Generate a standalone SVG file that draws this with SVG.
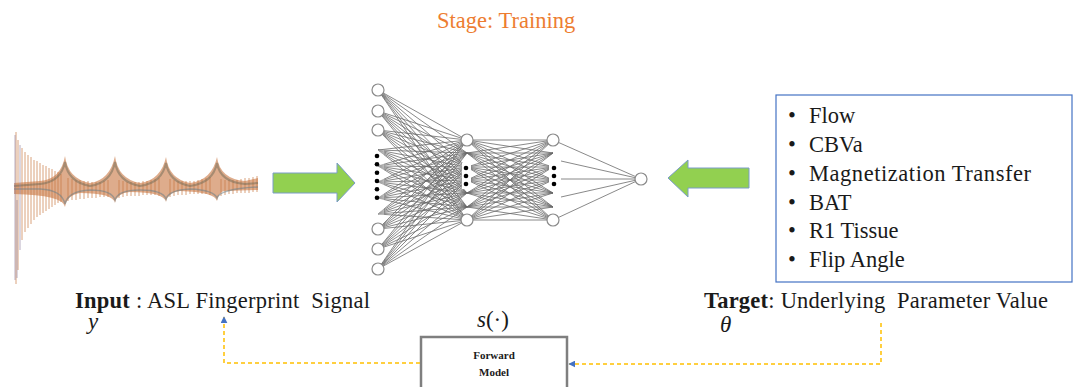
<svg xmlns="http://www.w3.org/2000/svg" width="1073" height="387" viewBox="0 0 1073 387" xml:space="preserve">
<defs>
<style>
.serif{font-family:"Liberation Serif","Times New Roman",serif;fill:#1a1a1a;white-space:pre}
.net{stroke:#6b6b6b;stroke-width:0.8;fill:none}
.node{fill:#fff;stroke:#8a8a8a;stroke-width:1.2}
.dot{fill:#000}
.garrow{fill:#92D050;stroke:#7A9CC8;stroke-width:1}
.dash{fill:none;stroke:#FFC000;stroke-width:1.5;stroke-dasharray:4 3}
</style>
<marker id="blueHead" viewBox="0 0 10 10" refX="9" refY="5" markerWidth="7" markerHeight="7" orient="auto" markerUnits="userSpaceOnUse">
<path d="M0 0L10 5L0 10z" fill="#4472C4"/>
</marker>
</defs>
<rect width="1073" height="387" fill="#fff"/>

<text id="title" class="serif" x="437" y="28" font-size="22.5" style="fill:#ED7D31">Stage: Training</text>

<g id="signal">
<path d="M16 132L16 284M18 140L18 270M22 148L22 240M25 152L25 232M28 155L28 228M31 157L31 224M34 160L34 220M37 161L37 217M40 163L40 215M43 165L43 213M46 166L46 211M49 168L49 209M52 169L52 207M55 171L55 205M58 172L58 203M61 174L61 202M68 178L68 201M72 179L72 200M76 180L76 200M80 180L80 199M84 181L84 199M88 181L88 198M92 182L92 198M96 182L96 198M100 182L100 197M104 181L104 197M108 180L108 197M119 180L119 198M123 181L123 197M127 182L127 196M131 182L131 196M135 182L135 196M139 182L139 196M143 181L143 195M147 181L147 195M151 180L151 195M155 179L155 195M159 178L159 196M170 179L170 197M174 180L174 196M178 181L178 195M182 181L182 195M186 181L186 195M190 181L190 194M194 181L194 194M198 180L198 194M202 179L202 194M206 178L206 194M210 177L210 195M221 179L221 196M225 180L225 195M229 180L229 194M233 180L233 194M237 180L237 193M241 179L241 193M245 178L245 193M249 178L249 193M253 177L253 192M257 176L257 192" fill="none" stroke="#C97A45" stroke-width="1" opacity="0.7"/>
<path d="M14 183L40 181Q61 179 65 156Q68 179 90 183Q110 180 115 156Q118 179 140 183Q161 180 166 157Q169 179 190 183Q212 180 217 157Q220 179 245 181L258 178L258 190L224 191Q219 192 217 201Q215 192 180 191Q168 192 166 202Q164 192 130 192Q117 193 115 203Q113 193 80 193Q67 195 65 207Q63 195 14 194Z" fill="#C8743F" opacity="0.6"/>
<path d="M14 186L40 184Q61 182 65 162Q68 182 90 186Q111 183 115 162Q118 182 140 186Q162 183 166 163Q169 182 190 186Q213 183 217 163Q220 182 245 184L258 183" fill="none" stroke="#6f6a55" stroke-width="2" opacity="0.5"/>
<path d="M14 189L40 189Q62 190 65 204Q68 191 90 190Q112 190 115 200Q118 190 140 190Q163 190 166 199Q169 190 190 189Q214 190 217 198Q220 189 258 187" fill="none" stroke="#6d7f86" stroke-width="1.5" opacity="0.55"/>
<path d="M15 135L15 280M20 145L20 250M17 200L17 278" fill="none" stroke="#8a7a9a" stroke-width="1" opacity="0.6"/>
</g>

<g id="arrow-right">
<path class="garrow" d="M273 173L337 173L337 163L355 183L337 202L337 193L273 193Z"/>
</g>

<g id="neural-net">
<path class="net" d="M378 90L467 140M378 90L467 153M378 90L467 167M378 90L467 180M378 90L467 193M378 90L467 207M378 90L467 220M378 111L467 140M378 111L467 153M378 111L467 167M378 111L467 180M378 111L467 193M378 111L467 207M378 111L467 220M378 130L467 140M378 130L467 153M378 130L467 167M378 130L467 180M378 130L467 193M378 130L467 207M378 130L467 220M378 150L467 140M378 150L467 153M378 150L467 167M378 150L467 180M378 150L467 193M378 150L467 207M378 150L467 220M378 166L467 140M378 166L467 153M378 166L467 167M378 166L467 180M378 166L467 193M378 166L467 207M378 166L467 220M378 182L467 140M378 182L467 153M378 182L467 167M378 182L467 180M378 182L467 193M378 182L467 207M378 182L467 220M378 198L467 140M378 198L467 153M378 198L467 167M378 198L467 180M378 198L467 193M378 198L467 207M378 198L467 220M378 214L467 140M378 214L467 153M378 214L467 167M378 214L467 180M378 214L467 193M378 214L467 207M378 214L467 220M378 229L467 140M378 229L467 153M378 229L467 167M378 229L467 180M378 229L467 193M378 229L467 207M378 229L467 220M378 249L467 140M378 249L467 153M378 249L467 167M378 249L467 180M378 249L467 193M378 249L467 207M378 249L467 220M378 269L467 140M378 269L467 153M378 269L467 167M378 269L467 180M378 269L467 193M378 269L467 207M378 269L467 220"/>
<path class="net" d="M467 140L553 140M467 140L553 153M467 140L553 167M467 140L553 180M467 140L553 193M467 140L553 207M467 140L553 220M467 153L553 140M467 153L553 153M467 153L553 167M467 153L553 180M467 153L553 193M467 153L553 207M467 153L553 220M467 167L553 140M467 167L553 153M467 167L553 167M467 167L553 180M467 167L553 193M467 167L553 207M467 167L553 220M467 180L553 140M467 180L553 153M467 180L553 167M467 180L553 180M467 180L553 193M467 180L553 207M467 180L553 220M467 193L553 140M467 193L553 153M467 193L553 167M467 193L553 180M467 193L553 193M467 193L553 207M467 193L553 220M467 207L553 140M467 207L553 153M467 207L553 167M467 207L553 180M467 207L553 193M467 207L553 207M467 207L553 220M467 220L553 140M467 220L553 153M467 220L553 167M467 220L553 180M467 220L553 193M467 220L553 207M467 220L553 220"/>
<path class="net" d="M553 140L641 179M553 220L641 179M561 161L641 179M561 179L641 179M561 197L641 179"/>
<rect x="370" y="150" width="14" height="66" fill="#fff" opacity="0.35"/>
<circle class="node" cx="378" cy="90" r="6"/>
<circle class="node" cx="378" cy="111" r="6"/>
<circle class="node" cx="378" cy="130" r="6"/>
<circle class="node" cx="378" cy="229" r="6"/>
<circle class="node" cx="378" cy="249" r="6"/>
<circle class="node" cx="378" cy="269" r="6"/>
<circle class="node" cx="467" cy="140" r="6"/>
<circle class="node" cx="467" cy="220" r="6"/>
<circle class="node" cx="553" cy="140" r="6"/>
<circle class="node" cx="553" cy="220" r="6"/>
<circle class="node" cx="641" cy="179" r="6"/>
<rect x="462" y="163" width="9" height="26" fill="#fff"/>
<rect x="549" y="163" width="9" height="26" fill="#fff"/>
<circle class="dot" cx="377" cy="156" r="2.3"/>
<circle class="dot" cx="377" cy="164.3" r="2.3"/>
<circle class="dot" cx="377" cy="172.7" r="2.3"/>
<circle class="dot" cx="377" cy="181" r="2.3"/>
<circle class="dot" cx="377" cy="189.3" r="2.3"/>
<circle class="dot" cx="377" cy="197.7" r="2.3"/>
<circle class="dot" cx="466" cy="168" r="2.3"/>
<circle class="dot" cx="466" cy="176" r="2.3"/>
<circle class="dot" cx="466" cy="184" r="2.3"/>
<circle class="dot" cx="554" cy="168" r="2.3"/>
<circle class="dot" cx="554" cy="176" r="2.3"/>
<circle class="dot" cx="554" cy="184" r="2.3"/>
</g>

<g id="arrow-left">
<path class="garrow" d="M749 168L688 168L688 160L668 178L688 197L688 188L749 188Z"/>
</g>

<g id="target-box">
<rect x="776" y="95" width="296" height="187" fill="#fff" stroke="#4472C4" stroke-width="1.2"/>
<g class="serif" font-size="22.5">
<text x="788" y="123">•</text><text x="809" y="123">Flow</text>
<text x="788" y="152">•</text><text x="809" y="152">CBVa</text>
<text x="788" y="181">•</text><text x="809" y="181" textLength="222" lengthAdjust="spacing">Magnetization  Transfer</text>
<text x="788" y="210">•</text><text x="809" y="210">BAT</text>
<text x="788" y="238">•</text><text x="809" y="238">R1 Tissue</text>
<text x="788" y="267">•</text><text x="809" y="267">Flip Angle</text>
</g>
</g>

<g id="input-label">
<text class="serif" x="75" y="308" font-size="22.5" textLength="295" lengthAdjust="spacing"><tspan font-weight="bold">Input</tspan> : ASL Fingerprint  Signal</text>
<text class="serif" x="88" y="329" font-size="23" font-style="italic">y</text>
</g>

<g id="target-label">
<text class="serif" x="704" y="308" font-size="22.5" textLength="344" lengthAdjust="spacing"><tspan font-weight="bold">Target</tspan>: Underlying  Parameter Value</text>
<text class="serif" x="720" y="332" font-size="23" font-style="italic">θ</text>
</g>

<g id="forward-model">
<text class="serif" x="477" y="327" font-size="23"><tspan font-style="italic">s</tspan>(·)</text>
<rect x="421" y="337" width="146" height="70" fill="#fff" stroke="#7F7F7F" stroke-width="2.5"/>
<text class="serif" x="494" y="359" font-size="11" font-weight="bold" text-anchor="middle">Forward</text>
<text class="serif" x="494" y="376" font-size="11" font-weight="bold" text-anchor="middle">Model</text>
</g>

<g id="connectors">
<path class="dash" d="M881 323L881 364L569 364" marker-end="url(#blueHead)"/>
<path class="dash" d="M420 363L224 363L224 317" marker-end="url(#blueHead)"/>
</g>
</svg>
